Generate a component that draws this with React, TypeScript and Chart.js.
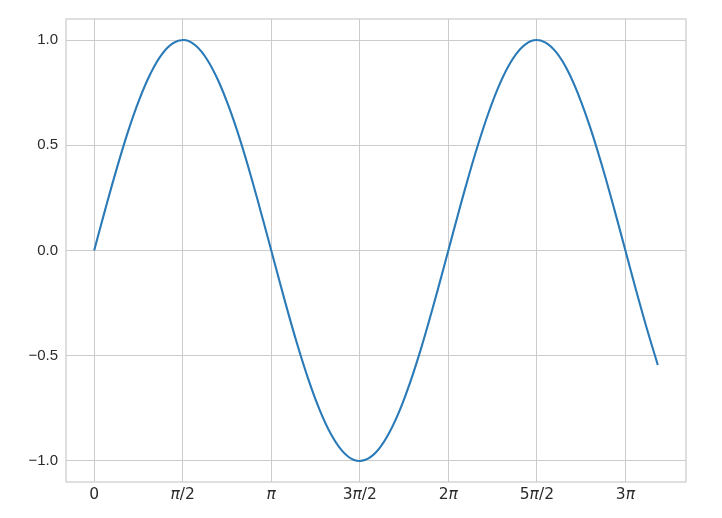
import React, { useEffect, useRef } from "react";
import { Chart, registerables } from "chart.js";

Chart.register(...registerables);

const xValues = [
  0.0, 0.2, 0.4, 0.6, 0.8, 1.0, 1.2, 1.4, 1.6, 1.8, 2.0, 2.2, 2.4, 2.6, 2.8, 3.0, 3.2, 3.4, 3.6, 3.8,
  4.0, 4.2, 4.4, 4.6, 4.8, 5.0, 5.2, 5.4, 5.6, 5.8, 6.0, 6.2, 6.4, 6.6, 6.8, 7.0, 7.2, 7.4, 7.6, 7.8,
  8.0, 8.2, 8.4, 8.6, 8.8, 9.0, 9.2, 9.4, 9.6, 9.8, 10.0,
];
const yValues = [
  0.0, 0.199, 0.389, 0.565, 0.717, 0.841, 0.932, 0.985, 1.0, 0.974, 0.909, 0.808, 0.675, 0.516, 0.335,
  0.141, -0.058, -0.256, -0.443, -0.612, -0.757, -0.872, -0.952, -0.994, -0.996, -0.959, -0.883, -0.773,
  -0.631, -0.465, -0.279, -0.083, 0.117, 0.312, 0.494, 0.657, 0.794, 0.899, 0.968, 0.999, 0.989, 0.941,
  0.855, 0.734, 0.585, 0.412, 0.223, 0.025, -0.175, -0.366, -0.544,
];
const xTickValues = [0, 1.5708, 3.1416, 4.7124, 6.2832, 7.854, 9.4248];
const xTickLabels = ["0", "π/2", "π", "3π/2", "2π", "5π/2", "3π"];
const yTickValues = [-1.0, -0.5, 0.0, 0.5, 1.0];
const yTickLabels = ["−1.0", "−0.5", "0.0", "0.5", "1.0"];

const GRID = "#cccccc";
const TEXT = "#2b2b2b";
const XFONT = '"DejaVu Sans", sans-serif';
const YFONT = '"Liberation Sans", Arial, sans-serif';

const boxAndLabels = {
  id: "boxAndLabels",
  afterDraw(chart: any) {
    const { ctx, chartArea } = chart;
    const xs = chart.scales.x;
    ctx.save();
    ctx.strokeStyle = GRID;
    ctx.lineWidth = 1.25;
    ctx.strokeRect(chartArea.left, chartArea.top, chartArea.right - chartArea.left, chartArea.bottom - chartArea.top);
    ctx.fillStyle = TEXT;
    ctx.textBaseline = "top";
    ctx.textAlign = "left";
    const normal = `15.5px ${XFONT}`;
    const italic = `italic 15.5px ${XFONT}`;
    xTickValues.forEach((v, i) => {
      const label = xTickLabels[i];
      const parts: { t: string; f: string }[] = [];
      const segs = label.split("π");
      segs.forEach((s, j) => {
        if (s) parts.push({ t: s, f: normal });
        if (j < segs.length - 1) parts.push({ t: "π", f: italic });
      });
      let w = 0;
      parts.forEach((p) => {
        ctx.font = p.f;
        w += ctx.measureText(p.t).width;
      });
      let x = xs.getPixelForValue(v) - w / 2;
      const y = chartArea.bottom + 5;
      parts.forEach((p) => {
        ctx.font = p.f;
        ctx.fillText(p.t, x, y);
        x += ctx.measureText(p.t).width;
      });
    });
    ctx.restore();
  },
};

export default function App() {
  const ref = useRef<HTMLCanvasElement | null>(null);
  useEffect(() => {
    document.body.style.margin = "0";
    const canvas = ref.current!;
    const chart = new Chart(canvas, {
      type: "line",
      data: {
        datasets: [
          {
            data: xValues.map((x, i) => ({ x, y: yValues[i] })),
            borderColor: "#2a7ab8",
            borderWidth: 2.1,
            pointRadius: 0,
            tension: 0.4,
            fill: false,
          },
        ],
      },
      options: {
        animation: false,
        responsive: false,
        maintainAspectRatio: false,
        layout: { padding: { left: 0, right: 36, top: 19, bottom: 0 } },
        plugins: { legend: { display: false }, tooltip: { enabled: false } },
        scales: {
          x: {
            type: "linear",
            min: -0.5,
            max: 10.5,
            afterBuildTicks: (axis: any) => {
              axis.ticks = xTickValues.map((v) => ({ value: v }));
            },
            afterFit: (axis: any) => {
              axis.height = 36;
            },
            ticks: { display: false },
            grid: { color: GRID, lineWidth: 1, drawTicks: false },
            border: { display: false },
          },
          y: {
            type: "linear",
            min: -1.1,
            max: 1.1,
            afterBuildTicks: (axis: any) => {
              axis.ticks = yTickValues.map((v) => ({ value: v }));
            },
            afterFit: (axis: any) => {
              axis.width = 66;
            },
            ticks: {
              padding: 8,
              color: TEXT,
              font: { family: YFONT, size: 15 },
              callback: (v: any) => {
                const idx = yTickValues.findIndex((t) => Math.abs(t - Number(v)) < 1e-6);
                return idx >= 0 ? yTickLabels[idx] : "";
              },
            },
            grid: { color: GRID, lineWidth: 1, drawTicks: false },
            border: { display: false },
          },
        },
      },
      plugins: [boxAndLabels],
    });
    return () => chart.destroy();
  }, []);
  return <canvas ref={ref} width={722} height={518} style={{ display: "block" }} />;
}
